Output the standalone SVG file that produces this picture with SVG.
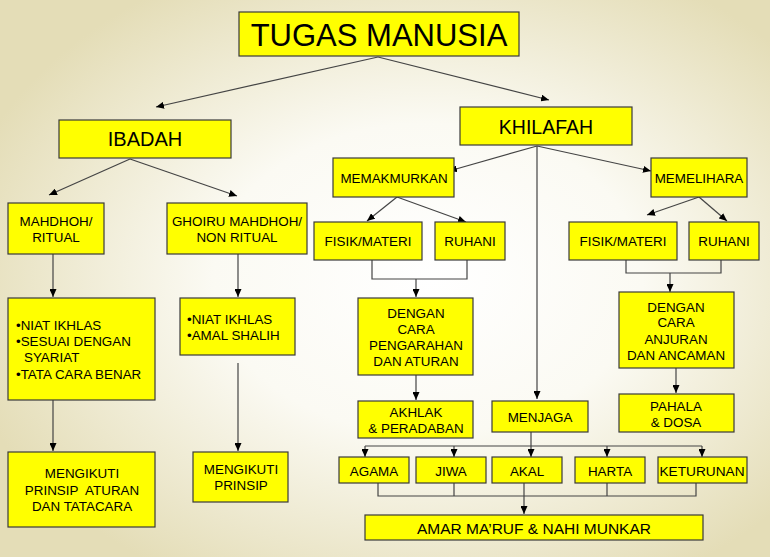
<svg xmlns="http://www.w3.org/2000/svg" width="770" height="557" viewBox="0 0 770 557">
<defs>
<radialGradient id="bg" cx="0.55" cy="0.5" r="0.62" fx="0.56" fy="0.5">
<stop offset="0" stop-color="#ffffff"/>
<stop offset="0.45" stop-color="#fbfaf3"/>
<stop offset="1" stop-color="#e4ddb7"/>
</radialGradient>
<marker id="ah" markerWidth="8" markerHeight="7" refX="8" refY="3.5" orient="auto" markerUnits="userSpaceOnUse">
<path d="M0,0 L8,3.5 L0,7 z" fill="#000"/>
</marker>
<style>
.b{fill:#ffff00;stroke:#3a3a3a;stroke-width:1.2}
text{font-family:"Liberation Sans",Arial,sans-serif;fill:#000;text-anchor:middle}
.s{font-size:13.4px}
.l{text-anchor:start}
.c{fill:none;stroke:#444;stroke-width:1.2}
.a{fill:none;stroke:#444;stroke-width:1.2;marker-end:url(#ah)}
</style>
</defs>
<rect width="770" height="557" fill="url(#bg)"/>

<g id="connectors">
<line class="a" x1="378" y1="57" x2="156" y2="107"/>
<line class="a" x1="378" y1="57" x2="549" y2="100"/>
<line class="a" x1="130" y1="159" x2="49" y2="195"/>
<line class="a" x1="130" y1="159" x2="237" y2="196"/>
<line class="a" x1="537" y1="146" x2="449" y2="171"/>
<line class="a" x1="537" y1="146" x2="651" y2="171"/>
<line class="a" x1="537" y1="146" x2="537" y2="399"/>
<line class="a" x1="397" y1="197" x2="367" y2="221"/>
<line class="a" x1="397" y1="197" x2="466" y2="222"/>
<line class="a" x1="699" y1="197" x2="647" y2="215"/>
<line class="a" x1="699" y1="197" x2="727" y2="221"/>
<polyline class="c" points="372,260 372,279 467,279 467,260"/>
<line class="a" x1="416" y1="279" x2="416" y2="297"/>
<polyline class="c" points="626,260 626,273 721,273 721,260"/>
<line class="a" x1="670" y1="273" x2="670" y2="292"/>
<line class="a" x1="416" y1="375" x2="416" y2="400"/>
<line class="a" x1="676" y1="368" x2="676" y2="393"/>
<line class="c" x1="365" y1="446" x2="702" y2="446"/>
<line class="a" x1="365" y1="446" x2="365" y2="457"/>
<line class="a" x1="454" y1="446" x2="454" y2="457"/>
<line class="a" x1="531" y1="432" x2="531" y2="457"/>
<line class="a" x1="607" y1="446" x2="607" y2="457"/>
<line class="a" x1="702" y1="446" x2="702" y2="457"/>
<polyline class="c" points="378,483 378,496 696,496 696,483"/>
<line class="c" x1="454" y1="483" x2="454" y2="496"/>
<line class="c" x1="607" y1="483" x2="607" y2="496"/>
<line class="a" x1="524" y1="483" x2="524" y2="514"/>
<line class="a" x1="53" y1="254" x2="53" y2="297"/>
<line class="a" x1="53" y1="400" x2="53" y2="451"/>
<line class="a" x1="238" y1="254" x2="238" y2="297"/>
<line class="a" x1="238" y1="363" x2="238" y2="451"/>
</g>

<g id="tugas"><rect class="b" x="239" y="12" width="280" height="44"/><text x="379" y="46" font-size="31">TUGAS MANUSIA</text></g>
<g id="ibadah"><rect class="b" x="59" y="120" width="172" height="38"/><text x="145" y="146" font-size="20">IBADAH</text></g>
<g id="khilafah"><rect class="b" x="460" y="107" width="172" height="38"/><text x="546" y="134" font-size="19.5">KHILAFAH</text></g>

<g id="mahdhoh"><rect class="b" x="8" y="203" width="96" height="51"/><text class="s" x="56" y="226">MAHDHOH/</text><text class="s" x="56" y="242">RITUAL</text></g>
<g id="ghoiru"><rect class="b" x="167" y="203" width="140" height="51"/><text class="s" x="237" y="226">GHOIRU MAHDHOH/</text><text class="s" x="237" y="242">NON RITUAL</text></g>

<g id="memakmurkan"><rect class="b" x="333" y="158" width="121" height="39"/><text class="s" x="394" y="183">MEMAKMURKAN</text></g>
<g id="memelihara"><rect class="b" x="651" y="158" width="96" height="39"/><text class="s" x="699" y="183">MEMELIHARA</text></g>

<g id="fisik1"><rect class="b" x="314" y="222" width="108" height="38"/><text class="s" x="368" y="246">FISIK/MATERI</text></g>
<g id="ruhani1"><rect class="b" x="435" y="222" width="70" height="38"/><text class="s" x="470" y="246">RUHANI</text></g>
<g id="fisik2"><rect class="b" x="569" y="222" width="108" height="38"/><text class="s" x="623" y="246">FISIK/MATERI</text></g>
<g id="ruhani2"><rect class="b" x="689" y="222" width="70" height="38"/><text class="s" x="724" y="246">RUHANI</text></g>

<g id="dengan1"><rect class="b" x="358" y="298" width="115" height="77"/>
<text class="s" x="416" y="318">DENGAN</text><text class="s" x="416" y="334">CARA</text><text class="s" x="416" y="350">PENGARAHAN</text><text class="s" x="416" y="366">DAN ATURAN</text></g>
<g id="dengan2"><rect class="b" x="619" y="292" width="115" height="76"/>
<text class="s" x="676" y="312">DENGAN</text><text class="s" x="676" y="327">CARA</text><text class="s" x="676" y="344">ANJURAN</text><text class="s" x="676" y="360">DAN ANCAMAN</text></g>

<g id="akhlak"><rect class="b" x="358" y="401" width="115" height="37"/><text class="s" x="416" y="417">AKHLAK</text><text class="s" x="416" y="433">&amp; PERADABAN</text></g>
<g id="menjaga"><rect class="b" x="492" y="401" width="96" height="31"/><text class="s" x="540" y="422">MENJAGA</text></g>
<g id="pahala"><rect class="b" x="619" y="394" width="115" height="38"/><text class="s" x="676" y="411">PAHALA</text><text class="s" x="676" y="427">&amp; DOSA</text></g>

<g id="agama"><rect class="b" x="339" y="457" width="70" height="26"/><text class="s" x="374" y="476">AGAMA</text></g>
<g id="jiwa"><rect class="b" x="416" y="457" width="70" height="26"/><text class="s" x="451" y="476">JIWA</text></g>
<g id="akal"><rect class="b" x="492" y="457" width="70" height="26"/><text class="s" x="527" y="476">AKAL</text></g>
<g id="harta"><rect class="b" x="575" y="457" width="70" height="26"/><text class="s" x="610" y="476">HARTA</text></g>
<g id="keturunan"><rect class="b" x="658" y="457" width="89" height="26"/><text class="s" x="702" y="476" textLength="85" lengthAdjust="spacingAndGlyphs">KETURUNAN</text></g>

<g id="amar"><rect class="b" x="365" y="515" width="338" height="25"/><text x="534" y="533.5" font-size="15.5">AMAR MA’RUF &amp; NAHI MUNKAR</text></g>

<g id="syarat1"><rect class="b" x="8" y="298" width="147" height="102"/>
<text class="s l" x="16" y="330">•NIAT IKHLAS</text><text class="s l" x="16" y="346">•SESUAI DENGAN</text><text class="s l" x="24" y="362">SYARIAT</text><text class="s l" x="16" y="379">•TATA CARA BENAR</text></g>
<g id="syarat2"><rect class="b" x="180" y="298" width="115" height="57"/>
<text class="s l" x="187" y="324">•NIAT IKHLAS</text><text class="s l" x="187" y="340">•AMAL SHALIH</text></g>

<g id="prinsip1"><rect class="b" x="8" y="452" width="147" height="75"/>
<text class="s" x="82" y="478">MENGIKUTI</text><text class="s" x="82" y="495">PRINSIP&#160; ATURAN</text><text class="s" x="82" y="511">DAN TATACARA</text></g>
<g id="prinsip2"><rect class="b" x="193" y="452" width="95" height="50"/>
<text class="s" x="241" y="474">MENGIKUTI</text><text class="s" x="241" y="490">PRINSIP</text></g>
</svg>
